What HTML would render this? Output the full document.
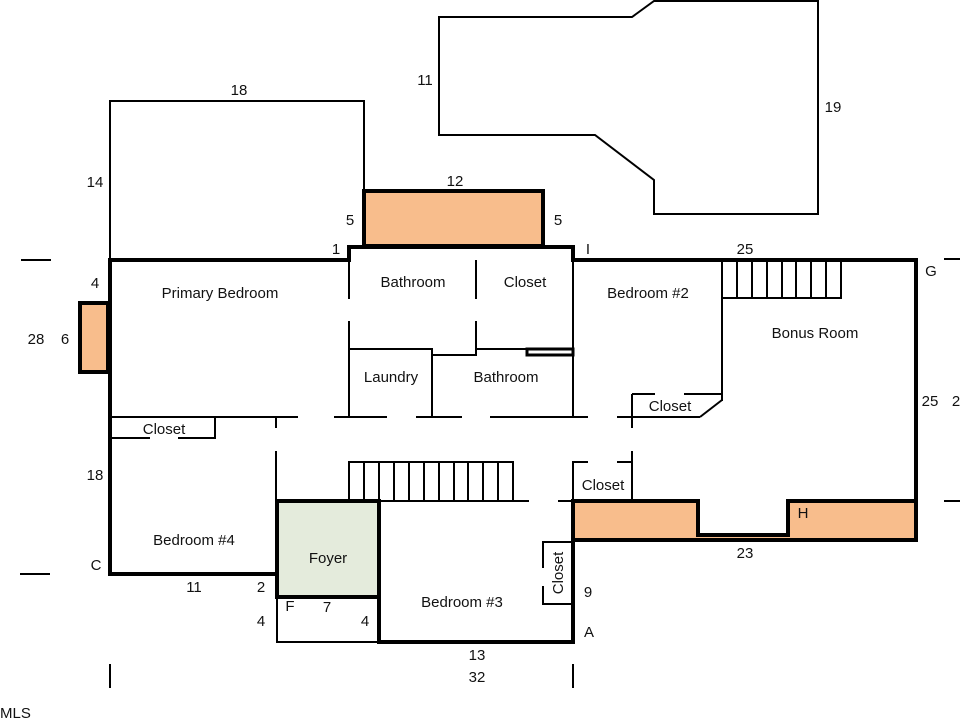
<!DOCTYPE html>
<html><head><meta charset="utf-8"><style>
html,body{margin:0;padding:0;background:#fff;}
svg{display:block;}
text{font-family:"Liberation Sans",sans-serif;font-size:15px;fill:#111;}
</style></head><body>
<svg width="960" height="720" viewBox="0 0 960 720" xmlns="http://www.w3.org/2000/svg">
<g fill="none" stroke="#000" stroke-width="2">
<polyline points="110,260 110,101 364,101 364,191"/>
<polygon points="439,17 632,17 654,1 818,1 818,214 654,214 654,180 595,135 439,135"/>
</g>
<rect x="364" y="191" width="179" height="55" fill="#f8bd8c" stroke="#000" stroke-width="4"/>
<rect x="80" y="303" width="28" height="69" fill="#f8bd8c" stroke="#000" stroke-width="4"/>
<rect x="277" y="501" width="102" height="96" fill="#e4ebdc" stroke="#000" stroke-width="4"/>
<path d="M573,501 H698 V535 H788 V501 H916 V540 H573 Z" fill="#f8bd8c" stroke="#000" stroke-width="4"/>
<g fill="none" stroke="#000" stroke-width="4">
<polyline points="110,260 349,260 349,247 573,247 573,260 916,260 916,540"/>
<polyline points="110,258 110,574 277,574"/>
<polyline points="379,597 379,642 573,642 573,540"/>
<rect x="527" y="349" width="46" height="6" stroke-width="3"/>
</g>
<g fill="none" stroke="#000" stroke-width="2">
<rect x="277" y="597" width="102" height="45"/>
<line x1="349" y1="260" x2="349" y2="299"/>
<line x1="349" y1="321" x2="349" y2="417"/>
<line x1="476" y1="260" x2="476" y2="299"/>
<line x1="476" y1="321" x2="476" y2="349"/>
<line x1="573" y1="260" x2="573" y2="417"/>
<polyline points="349,349 432,349 432,417"/>
<polyline points="432,355 476,355 476,349 527,349"/>
<line x1="110" y1="417" x2="298" y2="417"/>
<line x1="334" y1="417" x2="387" y2="417"/>
<line x1="416" y1="417" x2="462" y2="417"/>
<line x1="490" y1="417" x2="588" y2="417"/>
<line x1="617" y1="417" x2="700" y2="417"/>
<line x1="700" y1="417" x2="722" y2="400"/>
<line x1="722" y1="260" x2="722" y2="401"/>
<line x1="632" y1="394" x2="632" y2="428"/>
<line x1="632" y1="394" x2="655" y2="394"/>
<line x1="684" y1="394" x2="722" y2="394"/>
<polyline points="215,417 215,438 178,438"/>
<line x1="110" y1="438" x2="150" y2="438"/>
<line x1="276" y1="417" x2="276" y2="428"/>
<line x1="276" y1="451" x2="276" y2="501"/>
<line x1="277" y1="501" x2="529" y2="501"/>
<line x1="558" y1="501" x2="573" y2="501"/>
<polyline points="588,462 573,462 573,501"/>
<line x1="617" y1="462" x2="632" y2="462"/>
<line x1="632" y1="451" x2="632" y2="501"/>
<polyline points="573,542 543,542 543,568"/>
<polyline points="543,586 543,604 573,604"/>
<polyline points="722,298 841,298 841,260"/>
<line x1="737" y1="260" x2="737" y2="298"/><line x1="752" y1="260" x2="752" y2="298"/>
<line x1="767" y1="260" x2="767" y2="298"/><line x1="782" y1="260" x2="782" y2="298"/>
<line x1="796" y1="260" x2="796" y2="298"/><line x1="811" y1="260" x2="811" y2="298"/>
<line x1="826" y1="260" x2="826" y2="298"/>
<polyline points="349,501 349,462 513,462 513,501"/>
<line x1="364" y1="462" x2="364" y2="501"/><line x1="379" y1="462" x2="379" y2="501"/>
<line x1="394" y1="462" x2="394" y2="501"/><line x1="409" y1="462" x2="409" y2="501"/>
<line x1="424" y1="462" x2="424" y2="501"/><line x1="439" y1="462" x2="439" y2="501"/>
<line x1="454" y1="462" x2="454" y2="501"/><line x1="468" y1="462" x2="468" y2="501"/>
<line x1="483" y1="462" x2="483" y2="501"/><line x1="498" y1="462" x2="498" y2="501"/>
</g>
<g stroke="#000" stroke-width="2">
<line x1="21" y1="260" x2="51" y2="260"/>
<line x1="20" y1="574" x2="50" y2="574"/>
<line x1="944" y1="259" x2="960" y2="259"/>
<line x1="944" y1="501" x2="960" y2="501"/>
<line x1="110" y1="664" x2="110" y2="688"/>
<line x1="573" y1="664" x2="573" y2="688"/>
</g>
<text x="220" y="298" text-anchor="middle">Primary Bedroom</text>
<text x="413" y="287" text-anchor="middle">Bathroom</text>
<text x="525" y="287" text-anchor="middle">Closet</text>
<text x="648" y="298" text-anchor="middle">Bedroom #2</text>
<text x="815" y="338" text-anchor="middle">Bonus Room</text>
<text x="391" y="382" text-anchor="middle">Laundry</text>
<text x="506" y="382" text-anchor="middle">Bathroom</text>
<text x="670" y="411" text-anchor="middle">Closet</text>
<text x="164" y="434" text-anchor="middle">Closet</text>
<text x="603" y="490" text-anchor="middle">Closet</text>
<text x="194" y="545" text-anchor="middle">Bedroom #4</text>
<text x="328" y="563" text-anchor="middle">Foyer</text>
<text x="462" y="607" text-anchor="middle">Bedroom #3</text>
<text transform="translate(563,573) rotate(-90)" text-anchor="middle">Closet</text>
<g font-size="13">
<text x="239" y="95" text-anchor="middle">18</text>
<text x="95" y="187" text-anchor="middle">14</text>
<text x="425" y="85" text-anchor="middle">11</text>
<text x="833" y="112" text-anchor="middle">19</text>
<text x="455" y="186" text-anchor="middle">12</text>
<text x="350" y="225" text-anchor="middle">5</text>
<text x="558" y="225" text-anchor="middle">5</text>
<text x="336" y="254" text-anchor="middle">1</text>
<text x="588" y="254" text-anchor="middle">I</text>
<text x="745" y="254" text-anchor="middle">25</text>
<text x="931" y="276" text-anchor="middle">G</text>
<text x="95" y="288" text-anchor="middle">4</text>
<text x="36" y="344" text-anchor="middle">28</text>
<text x="65" y="344" text-anchor="middle">6</text>
<text x="930" y="406" text-anchor="middle">25</text>
<text x="956" y="406" text-anchor="middle">2</text>
<text x="95" y="480" text-anchor="middle">18</text>
<text x="803" y="518" text-anchor="middle">H</text>
<text x="745" y="558" text-anchor="middle">23</text>
<text x="96" y="570" text-anchor="middle">C</text>
<text x="194" y="592" text-anchor="middle">11</text>
<text x="261" y="592" text-anchor="middle">2</text>
<text x="588" y="597" text-anchor="middle">9</text>
<text x="290" y="611" text-anchor="middle">F</text>
<text x="327" y="612" text-anchor="middle">7</text>
<text x="261" y="626" text-anchor="middle">4</text>
<text x="365" y="626" text-anchor="middle">4</text>
<text x="589" y="637" text-anchor="middle">A</text>
<text x="477" y="660" text-anchor="middle">13</text>
<text x="477" y="682" text-anchor="middle">32</text>
<text x="0" y="718" fill="#999" font-size="16">MLS</text>
</g>
</svg>
</body></html>
